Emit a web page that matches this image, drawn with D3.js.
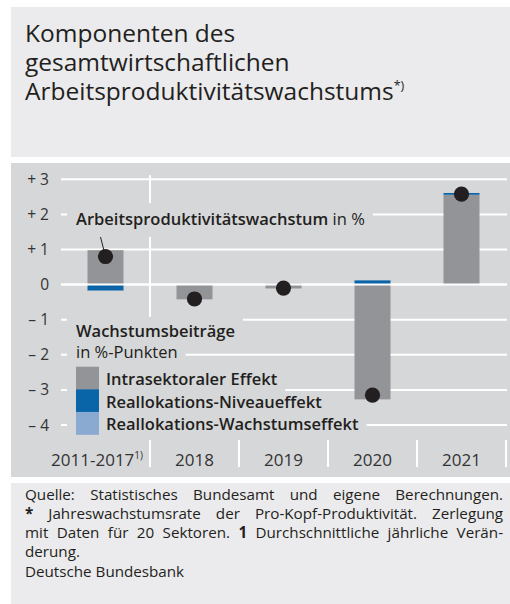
<!DOCTYPE html>
<html>
<head>
<meta charset="utf-8">
<script src="https://cdn.jsdelivr.net/npm/d3@7"></script>
<style>
	body { margin: 0; background: #fff; }
	svg { display: block; font-family: "Open Sans", sans-serif; }
</style>
</head>
<body>
<svg id="chart"></svg>
<script>
// data
const categories = ['2011-2017', '2018', '2019', '2020', '2021'];
const intrasektoral = [0.98, -0.42, -0.11, -3.27, 2.56];
const niveau = [-0.17, 0, 0.01, 0.12, 0.05];
const wachstum = [-0.01, 0, 0.02, 0, -0.02];
const produktivitaet = [0.8, -0.41, -0.1, -3.15, 2.58];
const yTicks = [3, 2, 1, 0, -1, -2, -3, -4];
const seriesKeys = ['intra', 'niveau', 'wachstum'];
const seriesNames = ['Intrasektoraler Effekt', 'Reallokations-Niveaueffekt', 'Reallokations-Wachstumseffekt'];
const seriesColors = ['#939497', '#0a64a8', '#8aaad2'];

const width = 510;
const height = 604;
const chartBg = '#d6d7d9';
const panelBg = '#ebebed';
const textColor = '#231f20';

const svg = d3.select('#chart').attr('width', width)
	.attr('height', height);

// title panel
svg.append('rect').attr('x', 11)
	.attr('y', 7)
	.attr('width', width - 11)
	.attr('height', 150)
	.attr('fill', panelBg);

const titleLines = ['Komponenten des', 'gesamtwirtschaftlichen', 'Arbeitsproduktivitätswachstums'];
const title = svg.append('g').attr('fill', textColor)
	.style('font-size', '24.5px');

titleLines.forEach((line, i) => {
	const t = title.append('text').attr('x', 25)
		.attr('y', 42 + (i * 29))
		.text(line);

	if (i === titleLines.length - 1) {
		t.append('tspan').attr('dy', -10)
			.style('font-size', '12.5px')
			.text('*)');
	}
});

// chart panel
svg.append('rect').attr('x', 11)
	.attr('y', 163)
	.attr('width', width - 11)
	.attr('height', 314)
	.attr('fill', chartBg);

const x = d3.scaleBand().domain(categories)
	.range([61, 506]);
const y = d3.scaleLinear().domain([-4, 3])
	.range([425, 179.3]);
const barW = 36;

const grid = svg.append('g');

grid.selectAll('line')
	.data(yTicks)
	.join('line')
	.attr('x1', 61)
	.attr('x2', 507)
	.attr('y1', (d) => y(d))
	.attr('y2', (d) => y(d))
	.attr('stroke', '#fff')
	.attr('stroke-width', 2);

// separator between the multi-year average and the single years
svg.append('line').attr('x1', x(categories[1]))
	.attr('x2', x(categories[1]))
	.attr('y1', y(3) - 4)
	.attr('y2', y(-1) - 3)
	.attr('stroke', '#fff')
	.attr('stroke-width', 2);

svg.append('g').attr('fill', '#333')
	.style('font-size', '15.5px')
	.selectAll('text')
	.data(yTicks)
	.join('text')
	.attr('x', 49)
	.attr('y', (d) => y(d) + 5.5)
	.attr('text-anchor', 'end')
	.text((d) => {
		if (d > 0) {
			return `+ ${ d }`;
		}
		return d < 0 ? `\u2013 ${ Math.abs(d) }` : '0';
	});

// text labels sit on boxes of the panel colour that hide the grid
const labels = svg.append('g').attr('fill', textColor)
	.style('font-size', '16.5px');

const boxed = (parts, tx, ty, top, bottom) => {
	const box = labels.append('rect').attr('fill', chartBg);
	const t = labels.append('text').attr('x', tx)
		.attr('y', ty);

	parts.forEach((p) => {
		t.append('tspan').style('font-weight', p.b ? 600 : 400)
			.text(p.t);
	});
	const len = t.node().getComputedTextLength();

	box.attr('x', 67)
		.attr('y', ty - top)
		.attr('width', (tx + len + 8) - 67)
		.attr('height', top + bottom);
	return t;
};

boxed([{ t: 'Arbeitsproduktivitätswachstum', b: true }, { t: ' in %' }], 76, 225, 22, 12);
boxed([{ t: 'Wachstumsbeiträge', b: true }], 76, 337, 20, 6);
boxed([{ t: 'in %-Punkten' }], 76, 358, 10, 8);

const rowH = 22.6;

seriesNames.forEach((name, i) => {
	boxed([{ t: name, b: true }], 106, 385 + (i * rowH), 13, 8);
	labels.append('rect').attr('x', 76)
		.attr('y', 366.7 + (i * rowH))
		.attr('width', 23)
		.attr('height', rowH + 0.3)
		.attr('fill', seriesColors[i]);
});

// stacked bars
const rows = categories.map((c, i) => ({
	cat: c, intra: intrasektoral[i], niveau: niveau[i], wachstum: wachstum[i],
}));
const stack = d3.stack().keys(seriesKeys)
	.offset(d3.stackOffsetDiverging);
const layers = stack(rows);

svg.append('g').selectAll('g')
	.data(layers)
	.join('g')
	.attr('fill', (d, i) => seriesColors[i])
	.selectAll('rect')
	.data((d) => d)
	.join('rect')
	.attr('x', (d) => x(d.data.cat) + ((x.bandwidth() - barW) / 2))
	.attr('width', barW)
	.attr('y', (d) => y(Math.max(d[0], d[1])))
	.attr('height', (d) => Math.abs(y(d[0]) - y(d[1])));

// zero line over the bars
svg.append('line').attr('x1', 61)
	.attr('x2', 507)
	.attr('y1', y(0))
	.attr('y2', y(0))
	.attr('stroke', '#fff')
	.attr('stroke-width', 2);

// leader line from the label to the first dot
const cx0 = x(categories[0]) + (x.bandwidth() / 2);

svg.append('line').attr('x1', cx0 - 5)
	.attr('x2', cx0)
	.attr('y1', 237)
	.attr('y2', y(produktivitaet[0]))
	.attr('stroke', textColor)
	.attr('stroke-width', 1);

svg.append('g').attr('fill', textColor)
	.selectAll('circle')
	.data(produktivitaet)
	.join('circle')
	.attr('cx', (d, i) => x(categories[i]) + (x.bandwidth() / 2))
	.attr('cy', (d) => y(d))
	.attr('r', 7.6);

// category separators and labels
const seps = categories.slice(1).map((c) => x(c))
	.concat([x.range()[1]]);

svg.append('g').selectAll('line')
	.data(seps)
	.join('line')
	.attr('x1', (d) => d)
	.attr('x2', (d) => d)
	.attr('y1', 440)
	.attr('y2', 467)
	.attr('stroke', '#fff')
	.attr('stroke-width', 2);

const catLabels = svg.append('g').attr('fill', '#333')
	.style('font-size', '17px')
	.selectAll('text')
	.data(categories)
	.join('text')
	.attr('x', (d, i) => (i === 0 ? x(d) + x.bandwidth() - 7 : x(d) + (x.bandwidth() / 2)))
	.attr('y', 466)
	.attr('text-anchor', (d, i) => (i === 0 ? 'end' : 'middle'))
	.text((d) => d);

catLabels.filter((d, i) => i === 0)
	.append('tspan')
	.attr('dy', -7)
	.style('font-size', '10px')
	.text('1)');

// footer
svg.append('rect').attr('x', 11)
	.attr('y', 483)
	.attr('width', width - 11)
	.attr('height', height - 483)
	.attr('fill', panelBg);

const footLines = [
	{ parts: [{ t: 'Quelle: Statistisches Bundesamt und eigene Berechnungen.' }], justify: true },
	{ parts: [{ t: '*', b: true }, { t: ' Jahreswachstumsrate der Pro-Kopf-Produktivität. Zerlegung' }], justify: true },
	{ parts: [{ t: 'mit Daten für 20 Sektoren. ' }, { t: '1', b: true }, { t: ' Durchschnittliche jährliche Verän-' }], justify: true },
	{ parts: [{ t: 'derung.' }], justify: false },
];
const footW = 478;
const foot = svg.append('g').attr('fill', textColor)
	.style('font-size', '15.2px');

footLines.forEach((line, i) => {
	const t = foot.append('text').attr('x', 25)
		.attr('y', 500 + (i * 19))
		.attr('xml:space', 'preserve');

	line.parts.forEach((p) => {
		t.append('tspan').style('font-weight', p.b ? 700 : 400)
			.text(p.t);
	});
	if (line.justify) {
		const len = t.node().getComputedTextLength();
		const spaces = line.parts.map((p) => p.t).join('')
			.split(' ').length - 1;

		t.style('word-spacing', `${ (footW - len) / spaces }px`);
	}
});

foot.append('text').attr('x', 25)
	.attr('y', 577)
	.text('Deutsche Bundesbank');
</script>
</body>
</html>
